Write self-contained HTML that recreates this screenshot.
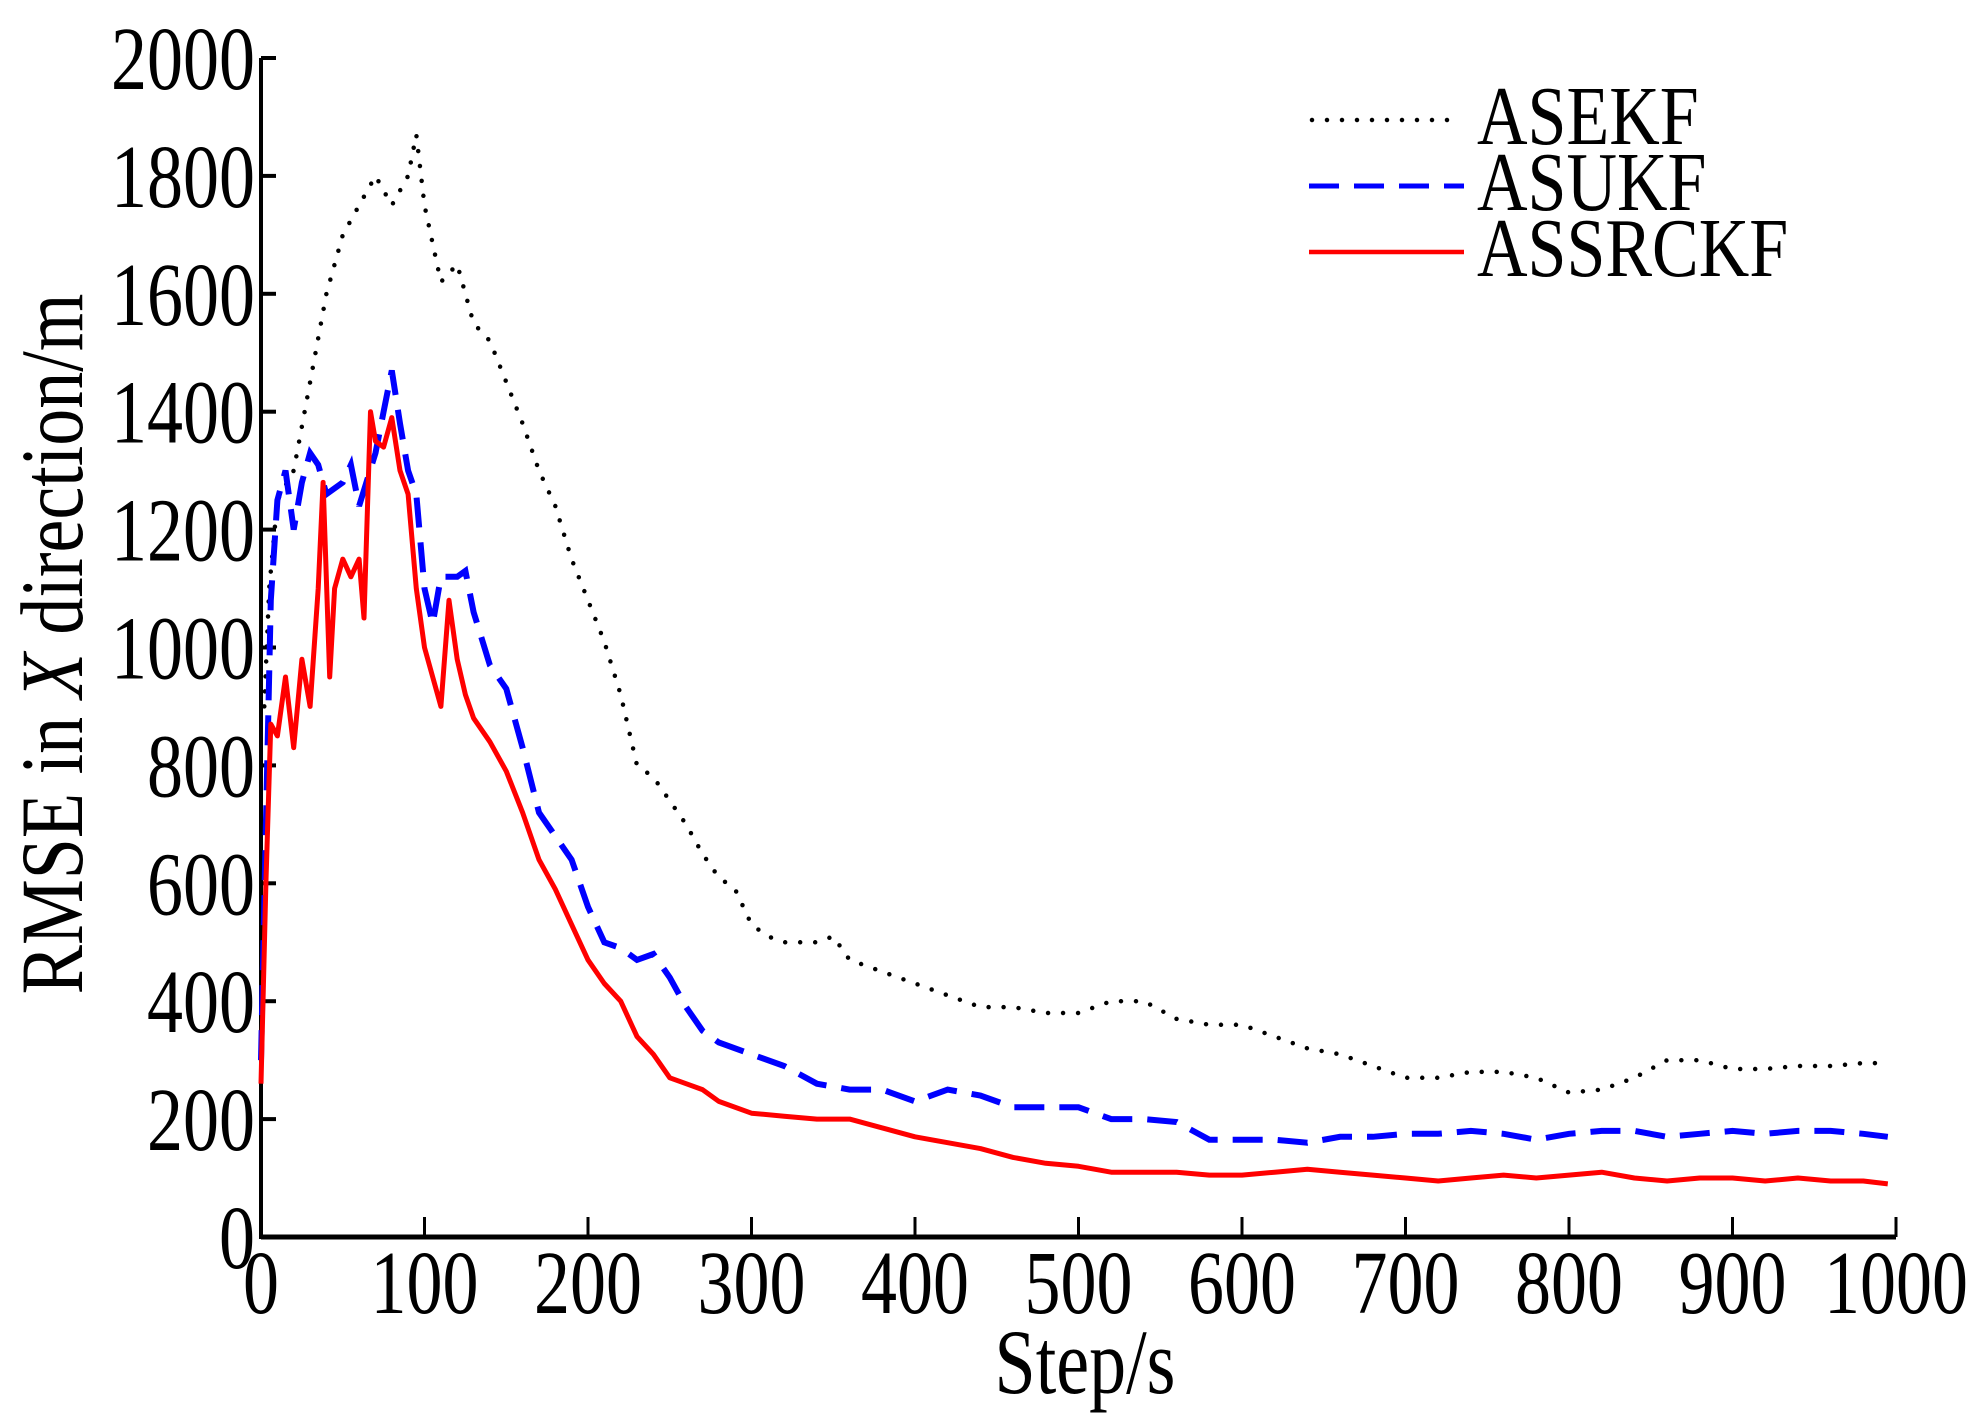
<!DOCTYPE html>
<html><head><meta charset="utf-8"><style>
html,body{margin:0;padding:0;background:#fff;}
svg{display:block;font-family:"Liberation Serif",serif;}
</style></head><body>
<svg id="chart" width="1979" height="1422" viewBox="0 0 1979 1422" xmlns="http://www.w3.org/2000/svg">
<g id="axes"></g>
<g id="series"></g>
<text transform="translate(1085,1393) scale(1,1.25)" font-size="74" text-anchor="middle">Step/s</text>
<text transform="translate(82,644) rotate(-90) scale(1,1.2)" font-size="74" text-anchor="middle">RMSE in <tspan font-style="italic">X</tspan> direction/m</text>
<g>
<line x1="1312" y1="120" x2="1462" y2="120" stroke="#000" stroke-width="4.5" stroke-linecap="round" stroke-dasharray="0 15"/>
<text transform="translate(1477,144) scale(1,1.2)" font-size="70">ASEKF</text>
<line x1="1309" y1="186" x2="1464" y2="186" stroke="#0000ff" stroke-width="5" stroke-dasharray="30 15"/>
<text transform="translate(1477,210) scale(1,1.2)" font-size="70">ASUKF</text>
<line x1="1309" y1="252" x2="1464" y2="252" stroke="#ff0000" stroke-width="4.5"/>
<text transform="translate(1477,276) scale(1,1.2)" font-size="70">ASSRCKF</text>
</g>
</svg>
<script>
const xTicks=[0,100,200,300,400,500,600,700,800,900,1000];
const yTicks=[0,200,400,600,800,1000,1200,1400,1600,1800,2000];
const ekfSteps=[2,5,10,20,30,40,50,60,70,80,90,95,100,110,120,130,140,150,160,170,180,190,200,210,220,230,240,250,260,270,280,290,300,310,320,330,340,350,360,370,380,390,400,420,440,460,480,500,520,540,560,580,600,620,640,660,680,700,720,740,760,780,800,820,840,860,880,900,920,940,960,980,995];
const ekfVals=[900,1100,1250,1300,1450,1600,1700,1750,1800,1750,1800,1870,1750,1620,1650,1550,1520,1450,1380,1300,1240,1150,1080,1010,920,800,780,740,700,650,610,590,530,510,500,500,500,510,470,460,450,440,430,410,390,390,380,380,400,400,370,360,360,340,320,310,290,270,270,280,280,270,245,250,270,300,300,285,285,290,290,295,295];
const ukfSteps=[0,3,6,10,15,20,25,30,35,40,50,55,60,70,75,80,85,90,95,100,105,110,120,125,130,140,150,160,170,180,190,200,210,220,230,240,250,260,270,280,300,320,340,360,380,400,420,440,460,480,500,520,540,560,580,600,620,640,660,680,700,720,740,760,780,800,820,840,860,880,900,920,940,960,980,995];
const ukfVals=[300,700,1080,1250,1300,1200,1280,1330,1310,1260,1280,1310,1240,1330,1400,1470,1380,1300,1260,1100,1040,1120,1120,1130,1060,970,930,830,720,680,640,560,500,490,470,480,440,390,350,330,310,290,260,250,250,230,250,240,220,220,220,200,200,195,165,165,165,160,170,170,175,175,180,175,165,175,180,180,170,175,180,175,180,180,175,170];
const ckfSteps=[0,3,6,10,15,20,25,30,35,38,42,45,50,55,60,63,67,70,75,80,85,90,95,100,105,110,115,120,125,130,140,150,160,170,180,190,200,210,220,230,240,250,260,270,280,300,320,340,360,380,400,420,440,460,480,500,520,540,560,580,600,620,640,660,680,700,720,740,760,780,800,820,840,860,880,900,920,940,960,980,995];
const ckfVals=[260,600,870,850,950,830,980,900,1100,1280,950,1100,1150,1120,1150,1050,1400,1350,1340,1390,1300,1260,1100,1000,950,900,1080,980,920,880,840,790,720,640,590,530,470,430,400,340,310,270,260,250,230,210,205,200,200,185,170,160,150,135,125,120,110,110,110,105,105,110,115,110,105,100,95,100,105,100,105,110,100,95,100,100,95,100,95,95,90];

const X0=261,X1=1896,Y0=1237,Y1=58;
const sx=v=>X0+(v-0)/1000*(X1-X0);
const sy=v=>Y0-(v-0)/2000*(Y0-Y1);
const NS="http://www.w3.org/2000/svg";
const axes=document.getElementById('axes');
const series=document.getElementById('series');
function mk(tag,attrs,parent){const e=document.createElementNS(NS,tag);for(const k in attrs)e.setAttribute(k,attrs[k]);parent.appendChild(e);return e;}

let a=mk('line',{x1:X0,y1:Y0,x2:X1,y2:Y0,stroke:'#000','stroke-width':5},axes);


a=mk('line',{x1:X0,y1:Y0+2,x2:X0,y2:Y1,stroke:'#000','stroke-width':4},axes);


xTicks.forEach(t=>{
  const l=mk('line',{x1:sx(t),y1:Y0,x2:sx(t),y2:Y0-20,stroke:'#000','stroke-width':3},axes);
  
  
  const tx=mk('text',{transform:'translate('+sx(t)+',1313) scale(1,1.25)','font-size':72,'text-anchor':'middle'},axes);
  tx.textContent=t;
  
  
});
yTicks.forEach(t=>{
  const l=mk('line',{x1:X0,y1:sy(t),x2:X0+15,y2:sy(t),stroke:'#000','stroke-width':4},axes);
  
  
  const tx=mk('text',{transform:'translate('+(X0-6)+','+(sy(t)+31)+') scale(1,1.25)','font-size':72,'text-anchor':'end'},axes);
  tx.textContent=t;
  
  
});
function path(steps,vals){return steps.map((s,i)=>(i?'L':'M')+sx(s).toFixed(1)+','+sy(vals[i]).toFixed(1)).join(' ');}
let p=mk('path',{d:path(ekfSteps,ekfVals),fill:'none',stroke:'#000','stroke-width':4.5,'stroke-linecap':'round','stroke-dasharray':'0 15'},series);


p=mk('path',{d:path(ukfSteps,ukfVals),fill:'none',stroke:'#0000ff','stroke-width':6,'stroke-dasharray':'30 15'},series);


p=mk('path',{d:path(ckfSteps,ckfVals),fill:'none',stroke:'#ff0000','stroke-width':5,'stroke-linejoin':'round'},series);


</script>
</body></html>
